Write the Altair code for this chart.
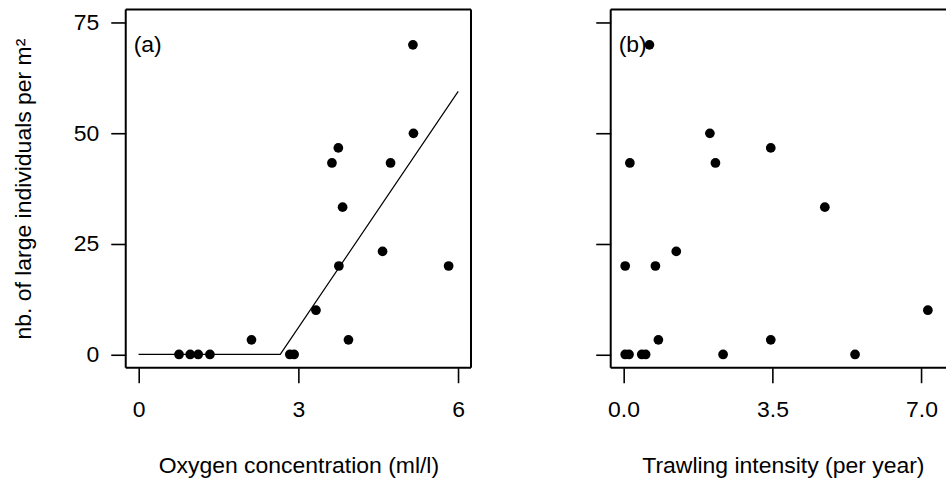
import altair as alt
import pandas as pd

# Density of large individuals per site (same sites in both panels)
density = [70, 50, 46.7, 43.3, 43.3, 33.3, 23.3, 20, 20, 10, 3.3, 3.3, 0, 0, 0, 0, 0, 0]
oxygen = [5.15, 5.16, 3.75, 3.63, 4.73, 3.83, 4.58, 5.82, 3.76, 3.33, 2.12, 3.94,
          2.84, 2.92, 0.76, 0.97, 1.12, 1.34]
trawling = [0.61, 2.03, 3.46, 0.15, 2.16, 4.73, 1.24, 0.04, 0.75, 7.15, 0.82, 3.46,
            0.04, 0.13, 0.43, 0.52, 2.34, 5.44]

# Piecewise-linear (threshold) fit of density on oxygen
fit_x = [0.0, 2.66, 6.0]
fit_y = [0.0, 0.0, 59.5]

FONT = "Liberation Sans"
FS = 23
H = 359
WA = 346
WB = 336

df_a = pd.DataFrame({"oxygen": oxygen, "density": density})
df_b = pd.DataFrame({"trawling": trawling, "density": density})
df_fit = pd.DataFrame({"oxygen": fit_x, "density": fit_y})

y_scale = alt.Scale(domain=[-3, 78], nice=False, zero=False)


def frame(width, height, right=True):
    one = alt.Data(values=[{}])
    base = alt.Chart(one).mark_rule(color="black", strokeWidth=2)
    sides = [
        base.encode(x=alt.value(0), y=alt.value(0), y2=alt.value(height)),
        base.encode(x=alt.value(0), x2=alt.value(width), y=alt.value(0)),
        base.encode(x=alt.value(0), x2=alt.value(width), y=alt.value(height)),
    ]
    if right:
        sides.append(base.encode(x=alt.value(width), y=alt.value(0), y2=alt.value(height)))
    return sides


def panel_label(txt):
    return alt.Chart(alt.Data(values=[{}])).mark_text(
        align="left", baseline="middle", fontSize=FS, font=FONT, color="black"
    ).encode(x=alt.value(8), y=alt.value(36), text=alt.value(txt))


# Panel (a): oxygen concentration
x_a = alt.X(
    "oxygen:Q",
    scale=alt.Scale(domain=[-0.24, 6.24], nice=False, zero=False),
    axis=alt.Axis(values=[0, 3, 6], title="Oxygen concentration (ml/l)",
                  titleX=WA / 2, titleY=105, titleBaseline="alphabetic"),
)
y_a = alt.Y(
    "density:Q",
    scale=y_scale,
    axis=alt.Axis(values=[0, 25, 50, 75], title="nb. of large individuals per m²",
                  titleX=-95, titleY=H / 2, titleAngle=-90, titleBaseline="alphabetic",
                  labelPadding=12),
)
pts_a = alt.Chart(df_a).mark_circle(size=95, color="black", opacity=1).encode(x=x_a, y=y_a)
line_a = alt.Chart(df_fit).mark_line(color="black", strokeWidth=1.2).encode(
    x=alt.X("oxygen:Q"), y=alt.Y("density:Q"))
panel_a = alt.layer(pts_a, line_a, panel_label("(a)"), *frame(WA, H)).properties(
    width=WA, height=H)

# Panel (b): trawling intensity
x_b = alt.X(
    "trawling:Q",
    scale=alt.Scale(domain=[-0.3, -0.3 + WB / 42.66], nice=False, zero=False),
    axis=alt.Axis(values=[0, 3.5, 7], format=".1f", title="Trawling intensity (per year)",
                  titleX=172.5, titleY=105, titleBaseline="alphabetic"),
)
y_b = alt.Y("density:Q", scale=y_scale,
            axis=alt.Axis(values=[0, 25, 50, 75], labels=False, title=None))
pts_b = alt.Chart(df_b).mark_circle(size=95, color="black", opacity=1).encode(x=x_b, y=y_b)
panel_b = alt.layer(pts_b, panel_label("(b)"), *frame(WB, H, right=False)).properties(
    width=WB, height=H)

chart = alt.hconcat(panel_a, panel_b, spacing=123).properties(
    padding={"left": 12, "top": 8, "right": 0, "bottom": 0},
    background="white",
).configure_view(stroke=None).configure_axis(
    labelFont=FONT, titleFont=FONT, labelFontSize=FS, titleFontSize=FS,
    labelColor="black", titleColor="black", titleFontWeight="normal",
    grid=False, domain=False, tickColor="black", tickWidth=1.6, tickSize=15,
).configure_axisX(labelPadding=16)

chart.save("out.html", embed_options={"renderer": "svg", "actions": False})
